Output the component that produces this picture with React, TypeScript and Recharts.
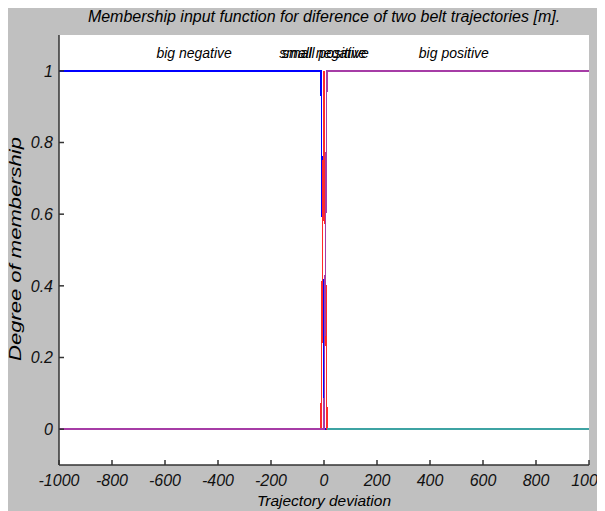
import { CartesianGrid, Line, LineChart, ReferenceDot, XAxis, YAxis, Label } from 'recharts'

// sample points of the membership functions (trajectory deviation)
const xs = [-1000, -11.1, 0, 11.1, 1000]
const bigNegative = [1, 1, 0, 0, 0]
const smallNegative = [0, 0, 1, 0, 0]
const smallPositive = [0, 0, 1, 0, 0]
const bigPositive = [0, 0, 0, 1, 1]

const xTicks = [-1000, -800, -600, -400, -200, 0, 200, 400, 600, 800, 1000]
const yTicks = [0, 0.2, 0.4, 0.6, 0.8, 1]

const mfNames = ['big negative', 'small negative', 'small positive', 'big positive']
const mfLabelX = [-490, 0, 0, 490]
const mfLabelY = 1.05

const toPoints = (vals: number[]) => xs.map((x, i) => ({ x, y: vals[i] }))

const font = '"Liberation Sans", Arial, sans-serif'
const txt = { fontFamily: font, fontSize: 14, fontStyle: 'italic', fill: '#000' }
const tickTxt = { ...txt, fontSize: 16, fill: '#111' }

// y label is drawn stretched, like the original figure
const YTitle = () => (
  <text
    x={12.5}
    y={241}
    transform="rotate(-90, 12.5, 241)"
    textAnchor="middle"
    textLength={224}
    lengthAdjust="spacingAndGlyphs"
    fontFamily={font}
    fontSize={16}
    fontStyle="italic"
    fill="#000"
  >
    Degree of membership
  </text>
)

export default function App() {
  const smallPosPts = toPoints(smallPositive)
  const peak = smallPositive.indexOf(1)
  const lineProps = {
    dataKey: 'y',
    strokeWidth: 1.5,
    dot: false,
    isAnimationActive: false,
    shapeRendering: 'crispEdges',
  } as const
  return (
    <div style={{ position: 'relative', width: 597, height: 503, background: '#c0c0c0' }}>
      <div
        style={{
          position: 'absolute',
          left: 51,
          width: 530,
          top: 0,
          lineHeight: '18px',
          textAlign: 'center',
          fontFamily: font,
          fontSize: 16,
          fontStyle: 'italic',
          color: '#000',
          whiteSpace: 'nowrap',
        }}
      >
        Membership input function for diference of two belt trajectories [m].
      </div>
      <LineChart width={597} height={503} margin={{ top: 27, right: 16, left: 0, bottom: 0 }}>
        <CartesianGrid fill="#ffffff" horizontal={false} vertical={false} />
        <XAxis
          dataKey="x"
          type="number"
          domain={[-1000, 1000]}
          ticks={xTicks}
          height={46}
          tickSize={-5}
          tickMargin={15}
          stroke="#333"
          strokeWidth={1.5}
          tick={tickTxt}
          interval={0}
          allowDataOverflow
        >
          <Label value="Trajectory deviation" position="insideBottom" offset={5} style={{ ...txt, fontSize: 15.5 }} />
        </XAxis>
        <XAxis
          xAxisId="top"
          orientation="top"
          dataKey="x"
          type="number"
          domain={[-1000, 1000]}
          ticks={xTicks}
          height={0}
          tickSize={-5}
          tick={false}
          stroke="#333"
          strokeWidth={1.5}
        />
        <YAxis
          type="number"
          domain={[-0.1, 1.1]}
          ticks={yTicks}
          width={51}
          tickSize={-5}
          tickMargin={11}
          stroke="#333"
          strokeWidth={1.5}
          tick={tickTxt}
          interval={0}
          allowDataOverflow
        >
          <Label content={YTitle} />
        </YAxis>
        <YAxis
          yAxisId="right"
          orientation="right"
          type="number"
          domain={[-0.1, 1.1]}
          ticks={yTicks}
          width={0}
          tickSize={-5}
          tick={false}
          stroke="#333"
          strokeWidth={1.5}
        />
        <Line data={toPoints(bigNegative)} stroke="#0000ff" {...lineProps} />
        <Line data={toPoints(smallNegative)} stroke="#ff0000" {...lineProps} />
        <Line data={smallPosPts.slice(0, peak + 2)} stroke="#ff2a2a" {...lineProps} />
        <Line data={toPoints(bigPositive)} stroke="#a63ca6" {...lineProps} />
        <Line data={smallPosPts.slice(peak + 1)} stroke="#3ea3a3" {...lineProps} />
        {mfNames.map((name, i) => (
          <ReferenceDot
            key={name}
            x={mfLabelX[i]}
            y={mfLabelY}
            r={0}
            fill="none"
            stroke="none"
            label={{ value: name, position: 'center', ...txt }}
          />
        ))}
      </LineChart>
    </div>
  )
}
